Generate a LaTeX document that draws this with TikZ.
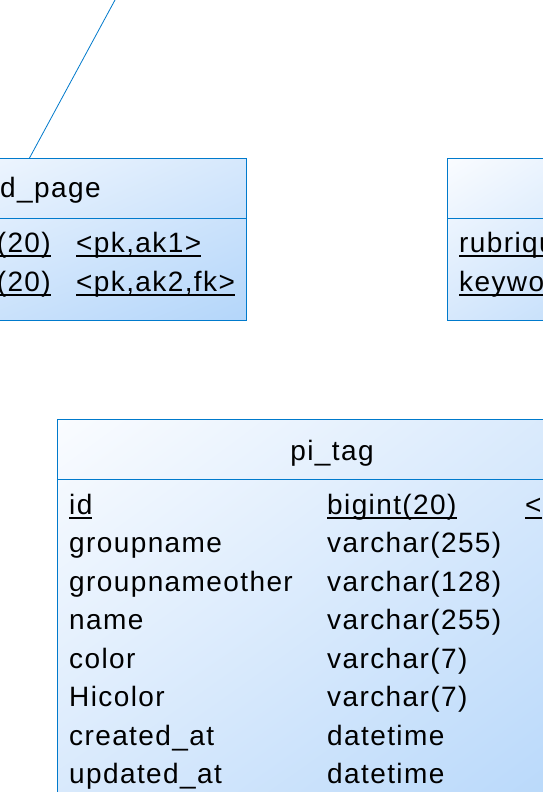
\documentclass[tikz,border=0pt]{standalone}
\usepackage{fontspec}
\setmainfont{Liberation Sans}[LetterSpace=5]
\usetikzlibrary{positioning,shadings}
\definecolor{pdline}{RGB}{0,122,204}
\definecolor{pdlight}{RGB}{250,252,255}
\definecolor{pdmid}{RGB}{214,232,252}
\definecolor{pddark}{RGB}{180,214,250}
\newcommand\keyul[1]{\setbox0\hbox{#1}\rlap{\rule[-4.5pt]{\wd0}{1.8pt}}\box0}
\tikzset{
  field/.style={anchor=base west, inner sep=0pt, font=\fontsize{28}{30}\selectfont},
  tabletitle/.style={anchor=base, inner sep=0pt, font=\fontsize{28}{30}\selectfont},
  tablebox/.style={draw=pdline, line width=1pt, upper left=pdlight, upper right=pdmid, lower left=pdmid, lower right=pddark},
  divider/.style={draw=pdline, line width=1pt},
  reference/.style={draw=pdline, line width=0.8pt}
}

\begin{document}
\begin{tikzpicture}[x=1pt,y=-1pt]
    \useasboundingbox (0,0) rectangle (543,792);
    \clip (0,0) rectangle (543,792);
    \fill[white] (0,0) rectangle (543,792);
    % page table (left)
    \shadedraw[tablebox] (-150,158) rectangle (246,320);
    \draw[divider] (-150,218) -- (246,218);
    \node[field] (pagetitle) at (0,197) {d\_page};
    \node[field, anchor=base east] (pagetype1) at (51,252) {\keyul{(20)}};
    \node[field, anchor=base east] (pagetype2) at (51,291) {\keyul{(20)}};
    \node[field] (pagekey1) at (76,252) {\keyul{<pk,ak1>}};
    \node[field] (pagekey2) at (76,291) {\keyul{<pk,ak2,fk>}};
    % rubrique table (right)
    \shadedraw[tablebox] (447,158) rectangle (700,320);
    \draw[divider] (447,218) -- (700,218);
    \node[field] (rubname1) at (459,252) {\keyul{rubriqu}};
    \node[field] (rubname2) at (459,291) {\keyul{keywo}};
    % pi_tag table
    \shadedraw[tablebox] (57,419) rectangle (607,820);
    \draw[divider] (57,479) -- (607,479);
    \node[tabletitle] (tagtitle) at (332,460) {pi\_tag};
    \node[field] (tagname0) at (69,514) {\keyul{id}};
    \node[field] (tagtype0) at (327,514) {\keyul{bigint(20)}};
    \node[field] (tagkey0) at (525,514) {\keyul{<}};
    \foreach \i/\name/\kind in {1/groupname/varchar(255),2/groupnameother/varchar(128),3/name/varchar(255),4/color/varchar(7),5/Hicolor/varchar(7),6/created\_at/datetime,7/updated\_at/datetime}{
        \node[field] (tagname\i) at (69,514+38.5*\i) {\name};
        \node[field] (tagtype\i) at (327,514+38.5*\i) {\kind};
    }
    % reference line
    \coordinate (reftop) at (115,0);
    \coordinate (pageanchor) at (29.5,158);
    \draw[reference] (reftop) -- (pageanchor);
\end{tikzpicture}
\end{document}
